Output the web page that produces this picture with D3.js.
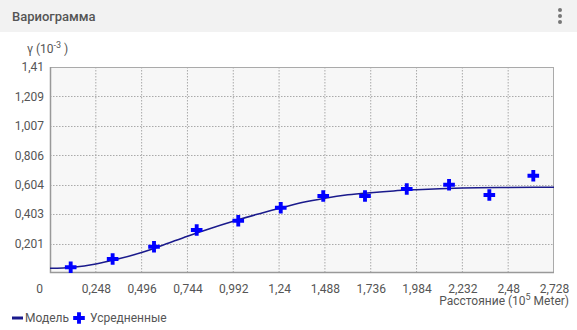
<!DOCTYPE html>
<html>
<head>
<meta charset="utf-8">
<script src="https://cdn.jsdelivr.net/npm/d3@7"></script>
<style>
  body { margin: 0; background: #fff; font-family: Roboto, "Noto Sans", sans-serif; }
  svg { display: block; }
</style>
</head>
<body>
<div id="chart"></div>
<script>
// averaged points (x in 10^5 m, gamma in 10^-3)
const avgX = [0.112, 0.339, 0.563, 0.794, 1.019, 1.249, 1.479, 1.705, 1.931, 2.160, 2.378, 2.616];
const avgY = [0.039, 0.096, 0.180, 0.294, 0.358, 0.447, 0.527, 0.527, 0.575, 0.604, 0.534, 0.666];

// model curve
const modelX = [0, 0.124, 0.248, 0.372, 0.496, 0.62, 0.744, 0.868, 0.992, 1.116, 1.24, 1.364, 1.488, 1.612, 1.736, 1.86, 1.984, 2.232, 2.48, 2.728];
const modelY = [0.032, 0.040, 0.062, 0.097, 0.140, 0.195, 0.252, 0.305, 0.354, 0.400, 0.442, 0.482, 0.512, 0.535, 0.550, 0.562, 0.570, 0.581, 0.585, 0.587];

const xTicks = [0, 0.248, 0.496, 0.744, 0.992, 1.24, 1.488, 1.736, 1.984, 2.232, 2.48, 2.728];
const yTicks = [0.201, 0.403, 0.604, 0.806, 1.007, 1.209, 1.41];

const width = 577, height = 330;
const margin = {top: 67, right: 23, bottom: 57, left: 50};
const w = width - margin.left - margin.right;
const h = height - margin.top - margin.bottom;
const fmt = v => String(v).replace(".", ",");

const svg = d3.select("#chart").append("svg")
    .attr("width", width)
    .attr("height", height);

// header
svg.append("rect").attr("width", width).attr("height", 32).attr("fill", "#f2f2f2");
svg.append("text")
    .attr("x", 12).attr("y", 21)
    .attr("font-size", 13).attr("font-weight", 500)
    .attr("fill", "#555")
    .text("Вариограмма");
svg.selectAll(".dot").data([10, 16, 22]).join("circle")
    .attr("cx", 560).attr("cy", d => d).attr("r", 2).attr("fill", "#777");

const g = svg.append("g").attr("transform", "translate(" + margin.left + "," + margin.top + ")");

const x = d3.scaleLinear().domain([0, 2.728]).range([0, w]);
const y = d3.scaleLinear().domain([0, 1.41]).range([h, 0]);

g.append("rect").attr("width", w).attr("height", h).attr("fill", "#f7f7f7");

// grid
g.selectAll(".vgrid").data(xTicks.slice(1, -1)).join("line")
    .attr("x1", d => x(d)).attr("x2", d => x(d))
    .attr("y1", 0).attr("y2", h)
    .attr("stroke", "#aaa").attr("stroke-dasharray", "1.5,1.5");
g.selectAll(".hgrid").data(yTicks.slice(0, -1)).join("line")
    .attr("x1", 0).attr("x2", w)
    .attr("y1", d => Math.round(y(d)) + 0.5).attr("y2", d => Math.round(y(d)) + 0.5)
    .attr("stroke", "#aaa").attr("stroke-dasharray", "1.5,1.5");

// frame
g.append("rect").attr("x", 0.5).attr("y", 0.5).attr("width", w - 1).attr("height", h - 1)
    .attr("fill", "none").attr("stroke", "#aaa");
g.append("path").attr("d", "M0.5,0V" + (h - 0.5) + "H" + w)
    .attr("fill", "none").attr("stroke", "#999").attr("stroke-width", 1.5);

// axes
const xAxis = g.append("g").attr("transform", "translate(0," + h + ")")
    .call(d3.axisBottom(x).tickValues(xTicks).tickSize(0).tickPadding(11).tickFormat(fmt));
const yAxis = g.append("g")
    .call(d3.axisLeft(y).tickValues(yTicks).tickSize(0).tickPadding(6).tickFormat(fmt));
[xAxis, yAxis].forEach(a => {
    a.select(".domain").remove();
    a.selectAll("text").attr("font-size", 12).attr("fill", "#555")
        .attr("font-family", "Roboto, 'Noto Sans', sans-serif");
});
xAxis.selectAll(".tick").filter(d => d === 0).select("text").attr("dx", -11);

// axis titles
const yt = svg.append("text").attr("x", 27).attr("y", 53)
    .attr("font-size", 12).attr("fill", "#555");
yt.append("tspan").text("γ (10");
yt.append("tspan").attr("font-size", 9).attr("dy", -5).text("-3");
yt.append("tspan").attr("dy", 5).text(" )");

const xt = svg.append("text").attr("x", 569).attr("y", 305)
    .attr("text-anchor", "end").attr("font-size", 12).attr("fill", "#555");
xt.append("tspan").text("Расстояние (10");
xt.append("tspan").attr("font-size", 9).attr("dy", -5).text("5");
xt.append("tspan").attr("dy", 5).text(" Meter)");

// model line
const modelData = modelX.map((v, i) => [v, modelY[i]]);
g.append("path").datum(modelData)
    .attr("fill", "none").attr("stroke", "#1a1a8c").attr("stroke-width", 1.5)
    .attr("d", d3.line().x(d => x(d[0])).y(d => y(d[1])).curve(d3.curveMonotoneX));

// averaged markers
const cross = d3.symbol().type(d3.symbolCross).size(75);
g.selectAll(".avg").data(avgX.map((v, i) => [v, avgY[i]])).join("path")
    .attr("transform", d => "translate(" + x(d[0]) + "," + y(d[1]) + ")")
    .attr("d", cross).attr("fill", "#0000ff");

// legend
const lg = svg.append("g").attr("transform", "translate(0,318)");
lg.append("line").attr("x1", 12).attr("x2", 23).attr("y1", 0).attr("y2", 0)
    .attr("stroke", "#1a1a8c").attr("stroke-width", 3);
lg.append("text").attr("x", 25).attr("y", 4).attr("font-size", 12).attr("fill", "#555").text("Модель");
lg.append("path").attr("transform", "translate(79,0)").attr("d", cross).attr("fill", "#0000ff");
lg.append("text").attr("x", 90).attr("y", 4).attr("font-size", 12).attr("fill", "#555").text("Усредненные");
</script>
</body>
</html>
